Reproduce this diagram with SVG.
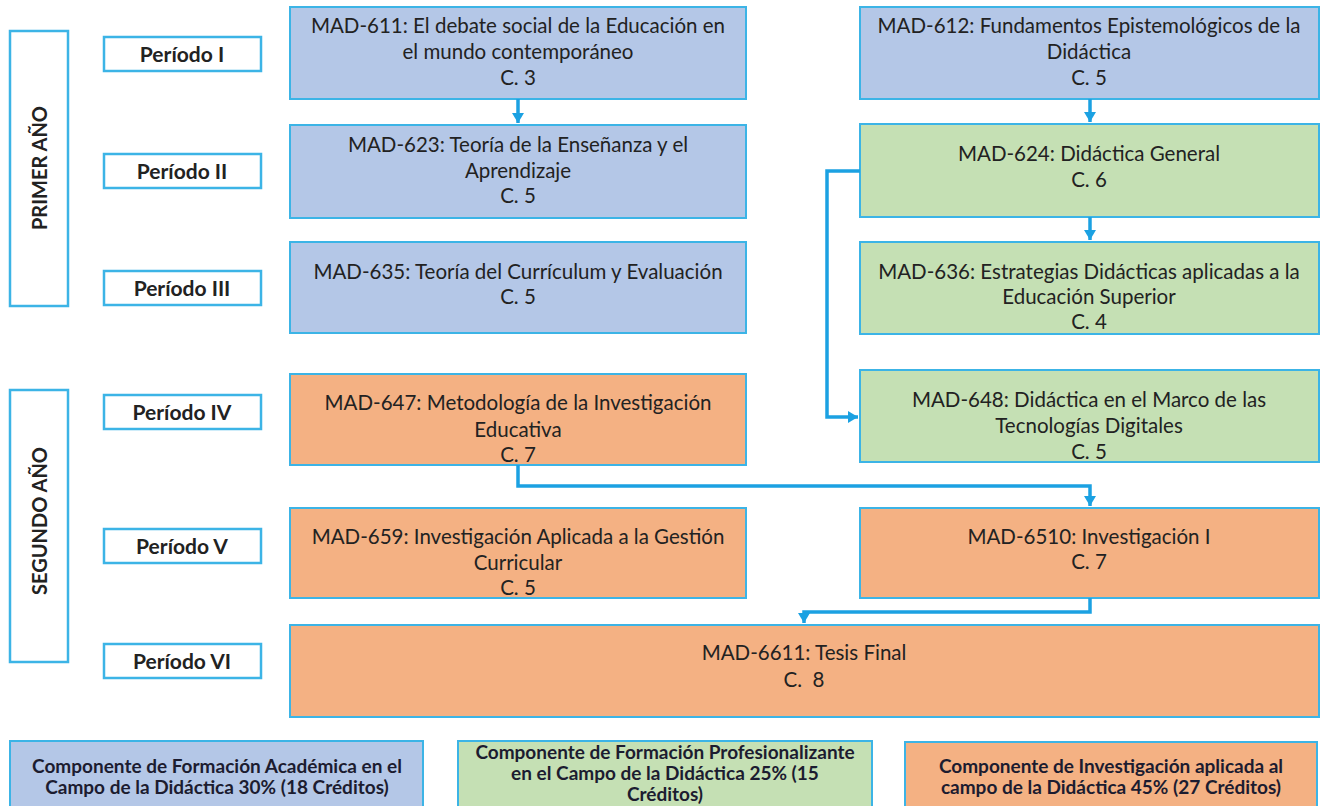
<svg xmlns="http://www.w3.org/2000/svg" width="1328" height="806" viewBox="0 0 1328 806">
<style>
.bg{fill:#ffffff}
.lab{fill:#ffffff;stroke:#3cb4e6;stroke-width:2.5}
.blue{fill:#b4c7e7;stroke:#3cb4e6;stroke-width:2}
.green{fill:#c5e0b4;stroke:#3cb4e6;stroke-width:2}
.orange{fill:#f4b183;stroke:#3cb4e6;stroke-width:2}
.t{font-family:Lato,"Liberation Sans",sans-serif;font-size:20.5px;fill:#222222;text-anchor:middle}
.p{font-family:Lato,"Liberation Sans",sans-serif;font-size:21px;font-weight:bold;fill:#222222;text-anchor:middle}
.y{font-family:Lato,"Liberation Sans",sans-serif;font-size:20px;font-weight:bold;fill:#222222;text-anchor:middle}
.lg{font-family:Lato,"Liberation Sans",sans-serif;font-size:19px;font-weight:bold;fill:#1c1c30;text-anchor:middle}
.c{fill:none;stroke:#1ba1e2;stroke-width:3.5;stroke-linejoin:miter}
</style>
<defs>
<marker id="ah" markerUnits="userSpaceOnUse" markerWidth="14" markerHeight="14" refX="10" refY="6" orient="auto">
<path d="M0,0 L10,6 L0,12 Z" fill="#1ba1e2"/>
</marker>
</defs>
<rect class="bg" x="0" y="0" width="1328" height="806"/>

<g id="year1">
<rect class="lab" x="10" y="31" width="58" height="275"/>
<text class="y" transform="translate(47,168) rotate(-90)">PRIMER AÑO</text>
</g>
<g id="year2">
<rect class="lab" x="10" y="390" width="58" height="272"/>
<text class="y" transform="translate(47,521) rotate(-90)">SEGUNDO AÑO</text>
</g>

<g id="periodo1"><rect class="lab" x="104" y="37" width="157" height="34"/><text class="p" x="182" y="62">Período I</text></g>
<g id="periodo2"><rect class="lab" x="104" y="154" width="157" height="34"/><text class="p" x="182" y="179">Período II</text></g>
<g id="periodo3"><rect class="lab" x="104" y="271" width="157" height="34"/><text class="p" x="182" y="296">Período III</text></g>
<g id="periodo4"><rect class="lab" x="104" y="395" width="157" height="34"/><text class="p" x="182" y="420">Período IV</text></g>
<g id="periodo5"><rect class="lab" x="104" y="529" width="157" height="34"/><text class="p" x="182" y="554">Período V</text></g>
<g id="periodo6"><rect class="lab" x="104" y="644" width="157" height="34"/><text class="p" x="182" y="669">Período VI</text></g>

<g id="mad611"><rect class="blue" x="290" y="7" width="456" height="92"/>
<text class="t" x="518" y="33">MAD-611: El debate social de la Educación en</text>
<text class="t" x="518" y="59">el mundo contemporáneo</text>
<text class="t" x="518" y="85">C. 3</text></g>

<g id="mad612"><rect class="blue" x="860" y="7" width="459" height="92"/>
<text class="t" x="1089" y="33">MAD-612: Fundamentos Epistemológicos de la</text>
<text class="t" x="1089" y="59">Didáctica</text>
<text class="t" x="1089" y="85">C. 5</text></g>

<g id="mad623"><rect class="blue" x="290" y="125" width="456" height="93"/>
<text class="t" x="518" y="152">MAD-623: Teoría de la Enseñanza y el</text>
<text class="t" x="518" y="178">Aprendizaje</text>
<text class="t" x="518" y="203">C. 5</text></g>

<g id="mad624"><rect class="green" x="860" y="124" width="459" height="93"/>
<text class="t" x="1089" y="161">MAD-624: Didáctica General</text>
<text class="t" x="1089" y="187">C. 6</text></g>

<g id="mad635"><rect class="blue" x="290" y="242" width="456" height="91"/>
<text class="t" x="518" y="279">MAD-635: Teoría del Currículum y Evaluación</text>
<text class="t" x="518" y="304">C. 5</text></g>

<g id="mad636"><rect class="green" x="860" y="242" width="459" height="92"/>
<text class="t" x="1089" y="279">MAD-636: Estrategias Didácticas aplicadas a la</text>
<text class="t" x="1089" y="304">Educación Superior</text>
<text class="t" x="1089" y="329">C. 4</text></g>

<g id="mad647"><rect class="orange" x="290" y="374" width="456" height="91"/>
<text class="t" x="518" y="410">MAD-647: Metodología de la Investigación</text>
<text class="t" x="518" y="437">Educativa</text>
<text class="t" x="518" y="462">C. 7</text></g>

<g id="mad648"><rect class="green" x="860" y="370" width="459" height="92"/>
<text class="t" x="1089" y="407">MAD-648: Didáctica en el Marco de las</text>
<text class="t" x="1089" y="433">Tecnologías Digitales</text>
<text class="t" x="1089" y="459">C. 5</text></g>

<g id="mad659"><rect class="orange" x="290" y="508" width="456" height="90"/>
<text class="t" x="518" y="544">MAD-659: Investigación Aplicada a la Gestión</text>
<text class="t" x="518" y="570">Curricular</text>
<text class="t" x="518" y="595">C. 5</text></g>

<g id="mad6510"><rect class="orange" x="860" y="508" width="459" height="90"/>
<text class="t" x="1089" y="544">MAD-6510: Investigación I</text>
<text class="t" x="1089" y="569">C. 7</text></g>

<g id="mad6611"><rect class="orange" x="290" y="625" width="1029" height="92"/>
<text class="t" x="804" y="660">MAD-6611: Tesis Final</text>
<text class="t" x="804" y="687" xml:space="preserve">C.  8</text></g>

<g id="connectors">
<path class="c" d="M518,99 V123" marker-end="url(#ah)"/>
<path class="c" d="M1090,99 V122" marker-end="url(#ah)"/>
<path class="c" d="M1090,217 V240" marker-end="url(#ah)"/>
<path class="c" d="M860,171 H827 V417 H858" marker-end="url(#ah)"/>
<path class="c" d="M518,465 V486 H1090 V506" marker-end="url(#ah)"/>
<path class="c" d="M1090,598 V612 H804 V623" marker-end="url(#ah)"/>
</g>

<g id="legend-academica"><rect class="blue" x="10" y="741" width="413" height="70"/>
<text class="lg" x="217" y="773">Componente de Formación Académica en el</text>
<text class="lg" x="217" y="794">Campo de la Didáctica 30% (18 Créditos)</text></g>

<g id="legend-profesional"><rect class="green" x="458" y="741" width="414" height="70"/>
<text class="lg" x="665" y="759">Componente de Formación Profesionalizante</text>
<text class="lg" x="665" y="780">en el Campo de la Didáctica 25% (15</text>
<text class="lg" x="665" y="801">Créditos)</text></g>

<g id="legend-investigacion"><rect class="orange" x="905" y="742" width="412" height="70"/>
<text class="lg" x="1111" y="773">Componente de Investigación aplicada al</text>
<text class="lg" x="1111" y="794">campo de la Didáctica 45% (27 Créditos)</text></g>
</svg>
